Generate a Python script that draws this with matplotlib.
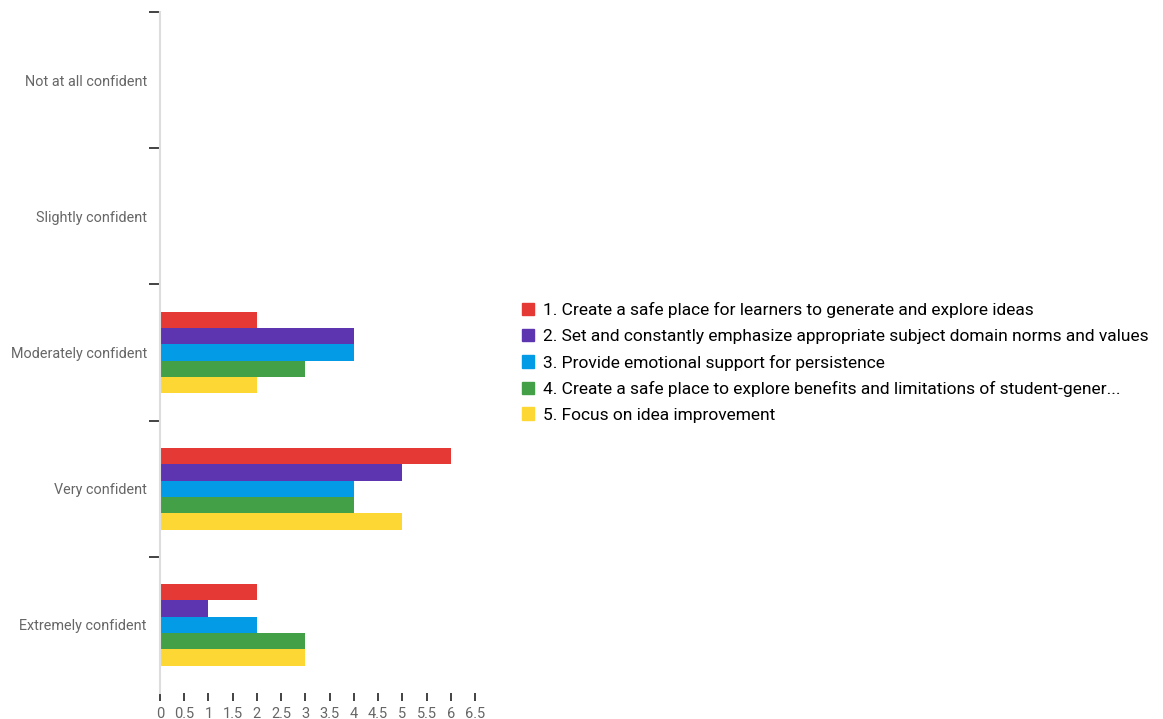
import numpy as np
import matplotlib.pyplot as plt
from matplotlib.patches import Patch

#====================================================
#                       Data
#====================================================
categories = ['Not at all confident', 'Slightly confident', 'Moderately confident',
              'Very confident', 'Extremely confident']
series = ['1. Create a safe place for learners to generate and explore ideas',
          '2. Set and constantly emphasize appropriate subject domain norms and values',
          '3. Provide emotional support for persistence',
          '4. Create a safe place to explore benefits and limitations of student-gener...',
          '5. Focus on idea improvement']
values = [[0, 0, 2, 6, 2],
          [0, 0, 4, 5, 1],
          [0, 0, 4, 4, 2],
          [0, 0, 3, 4, 3],
          [0, 0, 2, 5, 3]]
colors = ['#E53935', '#5E35B1', '#039BE5', '#43A047', '#FDD835']
xticks = np.arange(0, 7, 0.5)

#====================================================
#                       Plotting
#====================================================
plt.rcParams['font.family'] = ['Roboto', 'DejaVu Sans']
fig = plt.figure(figsize=(11.63, 7.19), dpi=100)
ax = fig.add_axes([0.1376, 0.0362, 0.2708, 0.9471])

ypos = np.arange(len(categories))
h = 0.12
for i in range(len(series)):
    ax.barh(ypos + (i - 2) * h, values[i], height=h, color=colors[i])

ax.set_xlim(0, 6.5)
ax.set_ylim(4.5, -0.5)

# boundaries as major ticks, labels at centres
ax.set_yticks(np.arange(-0.5, 4, 1))
ax.set_yticklabels([])
ax.set_yticks(ypos, minor=True)
ax.set_yticklabels(categories, minor=True, fontsize=10.4, color='#666666')
ax.tick_params(axis='y', which='major', length=8, width=1.2, color='#222222')
ax.tick_params(axis='y', which='minor', length=0, pad=9.5)

ax.set_xticks(xticks)
ax.set_xticklabels(['%g' % t for t in xticks], fontsize=10.5, color='#666666')
ax.tick_params(axis='x', length=6, width=1.2, color='#222222', pad=4)

for s in ['top', 'right', 'bottom']:
    ax.spines[s].set_visible(False)
ax.spines['left'].set_color('#dddddd')
ax.spines['left'].set_linewidth(1.5)

handles = [Patch(color=c) for c in colors]
fig.legend(handles, series, loc='upper left', bbox_to_anchor=(0.443, 0.589),
           frameon=False, fontsize=12.5, handlelength=0.7, handleheight=0.7,
           handletextpad=0.5, labelspacing=0.6, borderaxespad=0)

plt.savefig('out.png')
